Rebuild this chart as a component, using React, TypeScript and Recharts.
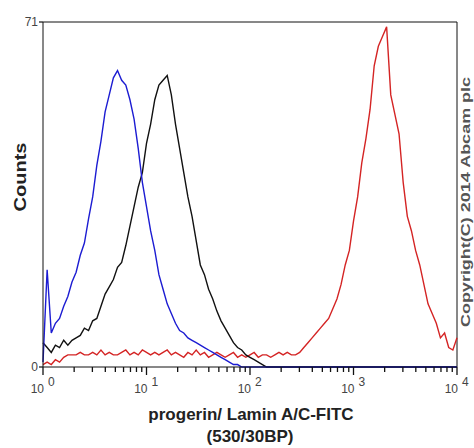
import { LineChart, Line, XAxis, YAxis, ReferenceLine } from "recharts";

// histogram channels, in decades (10^0 .. 10^4), 0.04 decade per bin
const channels: number[] = Array.from({ length: 101 }, (_, i) => +(i * 0.04).toFixed(2));

// isotype control (blue)
const blueCounts = [
  1, 20, 7, 9, 10, 12.5, 14.5, 17.5, 19.5, 23,
  25.5, 30.5, 35, 41.5, 46.5, 52.5, 56, 59.5, 61, 59,
  58, 55, 51, 45, 38, 33, 28, 24, 19, 16,
  13, 11, 9, 7.5, 7, 6, 5.5, 5, 4.5, 4,
  3.5, 3, 2.5, 2, 1.5, 1, 0.5, 0.5, 0, 0,
  0, 0, 0, 0, 0, 0, 0, 0, 0, 0,
  0, 0, 0, 0, 0, 0, 0, 0, 0, 0,
  0, 0, 0, 0, 0, 0, 0, 0, 0, 0,
  0, 0, 0, 0, 0, 0, 0, 0, 0, 0,
  0, 0, 0, 0, 0, 0, 0, 0, 0, 0,
  0,
];

// unlabelled control (black)
const blackCounts = [
  5, 4, 3, 4.5, 4, 5.5, 4.5, 5.5, 6, 6.5,
  8, 7.5, 9.5, 10, 12.5, 15, 16.5, 18, 20.5, 21.5,
  25, 29, 33, 37, 40, 46, 50, 55, 58, 59,
  60, 56, 50, 45, 40, 35, 31, 26, 21, 19,
  16, 14, 11.5, 9.5, 8, 6.5, 5, 4, 3.5, 2.5,
  2, 1.5, 1, 0.5, 0, 0, 0, 0, 0, 0,
  0, 0, 0, 0, 0, 0, 0, 0, 0, 0,
  0, 0, 0, 0, 0, 0, 0, 0, 0, 0,
  0, 0, 0, 0, 0, 0, 0, 0, 0, 0,
  0, 0, 0, 0, 0, 0, 0, 0, 0, 0,
  0,
];

// progerin / Lamin A/C stained (red)
const redCounts = [
  0.5, 1, 0.5, 1.5, 1, 2, 2.5, 2.5, 2.5, 3,
  2.5, 2.5, 3, 2.5, 3.5, 2.5, 3, 2.5, 2.5, 3,
  3.5, 2.5, 3, 2.5, 3.5, 3, 2.5, 3, 2.5, 3,
  3.5, 2.5, 3, 2.5, 2, 3, 2.5, 3.5, 2.5, 3,
  2, 2.5, 3, 2.5, 2, 2.5, 3, 2, 2.5, 2,
  2.5, 3, 2, 2.5, 2.5, 2, 2.5, 3, 2.5, 3,
  2.5, 2.5, 3, 4, 5, 6, 7, 8, 9, 10,
  12, 14, 17, 21, 24, 30, 35, 42, 47, 53,
  62, 66, 68, 70, 56, 52, 48, 38, 31, 28,
  24, 21, 17, 13, 11, 9, 6, 7, 4, 3.5,
  6,
];

const decades = [0, 1, 2, 3, 4];
const minorSteps = [2, 3, 4, 5, 6, 7, 8, 9];
const yTicks = [0, 71];

const xTicks = [
  ...decades,
  ...decades.slice(0, -1).flatMap((d) => minorSteps.map((m) => d + Math.log10(m))),
].sort((a, b) => a - b);

const data = channels.map((x, i) => ({
  x,
  blue: blueCounts[i],
  black: blackCounts[i],
  red: redCounts[i],
}));

const FONT = "'Liberation Sans', Arial, sans-serif";

function LogTick({ x, y, payload }: any) {
  const v = payload.value as number;
  const major = Math.abs(v - Math.round(v)) < 1e-6;
  return (
    <g>
      <path d={`M${x},${y}V${y + (major ? 8 : 5)}`} stroke="#111" strokeWidth={1.3} fill="none" />
      {major && (
        <text fontFamily={FONT} fontSize={12} fill="#444">
          <tspan x={x + 1} y={y + 26} textAnchor="end">10</tspan>
          <tspan x={x + 5} y={y + 19} textAnchor="start">{Math.round(v)}</tspan>
        </text>
      )}
    </g>
  );
}

function CountTick({ x, y, payload }: any) {
  return (
    <g>
      <path d={`M${x - 4},${y}H${x}`} stroke="#111" strokeWidth={1.2} fill="none" />
      <text x={x - 5} y={y + 4} textAnchor="end" fontFamily={FONT} fontSize={12} fill="#444">
        {payload.value}
      </text>
    </g>
  );
}

export default function App() {
  return (
    <div style={{ position: "absolute", left: 0, top: 0, width: 474, height: 448, background: "#fff" }}>
      <LineChart width={474} height={448} data={data} margin={{ top: 22, right: 17, bottom: 51, left: 13 }}>
        <XAxis
          dataKey="x"
          type="number"
          domain={[0, 4]}
          ticks={xTicks}
          interval={0}
          height={30}
          tickLine={false}
          tickSize={0}
          tickMargin={0}
          tick={<LogTick />}
          axisLine={{ stroke: "#111" }}
        />
        <YAxis
          type="number"
          domain={[0, 71]}
          ticks={yTicks}
          interval={0}
          width={30}
          tickLine={false}
          tickSize={0}
          tickMargin={0}
          tick={<CountTick />}
          axisLine={{ stroke: "#111" }}
        />
        <ReferenceLine y={71} stroke="#111" />
        <ReferenceLine x={4} stroke="#111" />
        <Line type="linear" dataKey="red" stroke="#d42424" strokeWidth={1.4} dot={false} isAnimationActive={false} />
        <Line type="linear" dataKey="black" stroke="#111111" strokeWidth={1.4} dot={false} isAnimationActive={false} />
        <Line type="linear" dataKey="blue" stroke="#1c1cd2" strokeWidth={1.4} dot={false} isAnimationActive={false} />
      </LineChart>
      <svg width={474} height={448} style={{ position: "absolute", left: 0, top: 0, pointerEvents: "none" }}>
        <text
          transform="translate(26,177) rotate(-90) scale(1.25,1)"
          textAnchor="middle"
          fontFamily={FONT}
          fontWeight="bold"
          fontSize={16}
          fill="#222"
        >
          Counts
        </text>
        <text x={251} y={420} textAnchor="middle" fontFamily={FONT} fontWeight="bold" fontSize={17} fill="#222">
          progerin/ Lamin A/C-FITC
        </text>
        <text x={250} y={442} textAnchor="middle" fontFamily={FONT} fontWeight="bold" fontSize={17} fill="#222">
          (530/30BP)
        </text>
        <text
          transform="translate(470,202) rotate(-90) scale(1.44,1)"
          textAnchor="middle"
          fontFamily={FONT}
          fontWeight="bold"
          fontSize={12.5}
          fill="#555"
        >
          Copyright(C) 2014 Abcam plc
        </text>
      </svg>
    </div>
  );
}
